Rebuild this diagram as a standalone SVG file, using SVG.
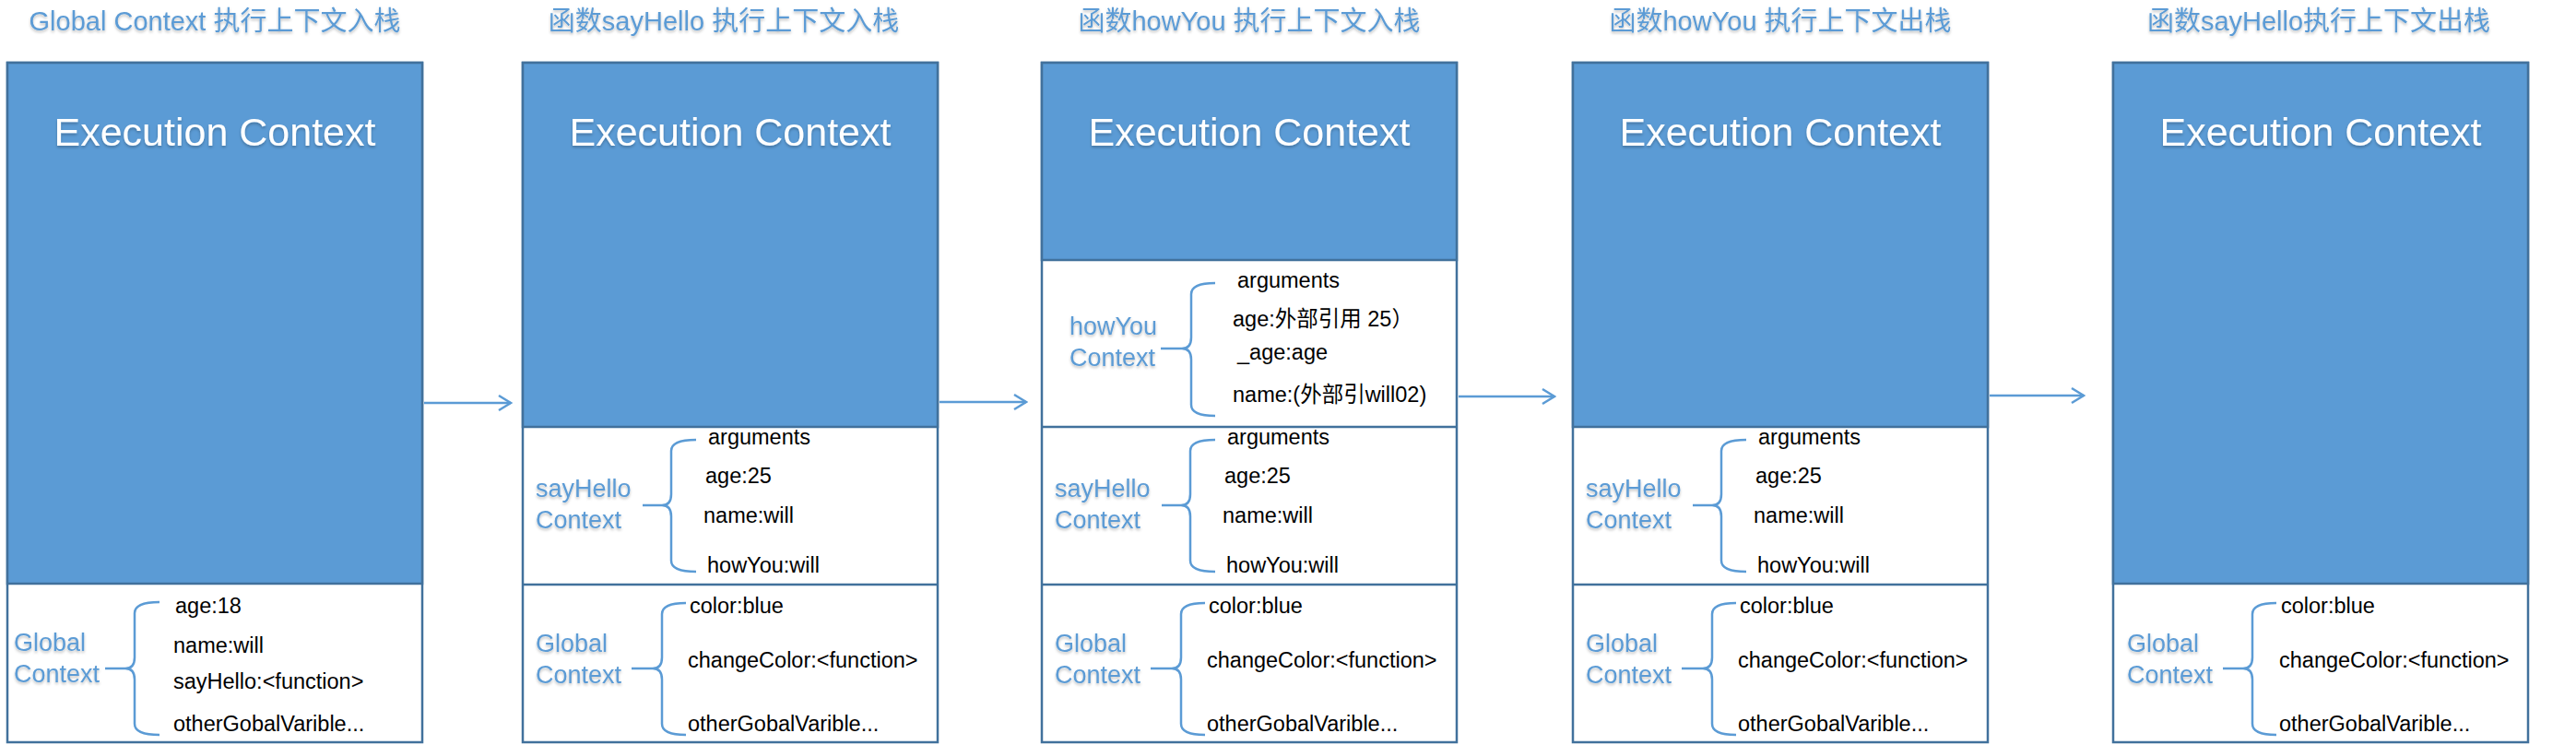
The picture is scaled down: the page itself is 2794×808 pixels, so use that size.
<svg xmlns="http://www.w3.org/2000/svg" width="2794" height="808" viewBox="0 0 2794 808">
<style>
.bg{fill:#ffffff}
.box{fill:#ffffff;stroke:#41719C;stroke-width:2.5}
.blue{fill:#5B9BD5;stroke:#41719C;stroke-width:2.5}
.div{stroke:#41719C;stroke-width:2.5;fill:none}
.title{font-family:"Liberation Sans","Noto Sans CJK SC",sans-serif;font-size:29px;fill:#5B9BD5;text-anchor:middle}
.ec{font-family:"Liberation Sans",sans-serif;font-size:43px;fill:#ffffff;text-anchor:middle}
.lbl{font-family:"Liberation Sans",sans-serif;font-size:27px;fill:#5B9BD5}
.item{font-family:"Liberation Sans","Noto Sans CJK SC",sans-serif;font-size:23.5px;fill:#000000}
.brace{fill:none;stroke:#5B9BD5;stroke-width:2.5}
.conn{fill:none;stroke:#5B9BD5;stroke-width:2.5}
</style>
<defs>
<filter id="sh" x="-10%" y="-30%" width="120%" height="160%">
<feDropShadow dx="0" dy="2" stdDeviation="1.5" flood-color="#000000" flood-opacity="0.25"/>
</filter>
<marker id="arr" markerWidth="16" markerHeight="20" refX="14" refY="10" orient="auto" markerUnits="userSpaceOnUse">
<path d="M1,2 L14,10 L1,18" fill="none" stroke="#5B9BD5" stroke-width="2.5"/>
</marker>
</defs>
<rect class="bg" x="0" y="0" width="2794" height="808"/>

<!-- Box 1 -->
<g id="stage1">
<text class="title" x="233" y="33" filter="url(#sh)">Global Context 执行上下文入栈</text>
<rect class="box" x="8" y="68" width="450" height="737"/>
<rect class="blue" x="8" y="68" width="450" height="565"/>
<text class="ec" x="233" y="158" filter="url(#sh)">Execution Context</text>
<g id="s1-global">
<text class="lbl" x="15" y="706" filter="url(#sh)">Global</text>
<text class="lbl" x="15" y="740" filter="url(#sh)">Context</text>
<path class="brace" d="M114,725 L136,725 M173,653 Q146,653 146,665 L146,713 Q146,725 136,725 Q146,725 146,737 L146,785 Q146,797 173,797"/>
<text class="item" x="190" y="665">age:18</text>
<text class="item" x="188" y="708">name:will</text>
<text class="item" x="188" y="747">sayHello:&lt;function&gt;</text>
<text class="item" x="188" y="793">otherGobalVarible...</text>
</g>
</g>

<!-- Box 2 -->
<g id="stage2">
<text class="title" x="785" y="33" filter="url(#sh)">函数sayHello 执行上下文入栈</text>
<rect class="box" x="567" y="68" width="450" height="737"/>
<rect class="blue" x="567" y="68" width="450" height="395"/>
<line class="div" x1="567" y1="634" x2="1017" y2="634"/>
<text class="ec" x="792" y="158" filter="url(#sh)">Execution Context</text>
<g id="s2-sayhello">
<text class="lbl" x="581" y="539" filter="url(#sh)">sayHello</text>
<text class="lbl" x="581" y="573" filter="url(#sh)">Context</text>
<path class="brace" d="M697,548 L718,548 M755,477 Q728,477 728,489 L728,536 Q728,548 718,548 Q728,548 728,560 L728,608 Q728,620 755,620"/>
<text class="item" x="768" y="482">arguments</text>
<text class="item" x="765" y="524">age:25</text>
<text class="item" x="763" y="567">name:will</text>
<text class="item" x="767" y="621">howYou:will</text>
</g>
<g id="s2-global">
<text class="lbl" x="581" y="707" filter="url(#sh)">Global</text>
<text class="lbl" x="581" y="741" filter="url(#sh)">Context</text>
<path class="brace" d="M685,725 L708,725 M744,654 Q718,654 718,666 L718,713 Q718,725 708,725 Q718,725 718,737 L718,785 Q718,797 744,797"/>
<text class="item" x="748" y="665">color:blue</text>
<text class="item" x="746" y="724">changeColor:&lt;function&gt;</text>
<text class="item" x="746" y="793">otherGobalVarible...</text>
</g>
</g>

<!-- Box 3 -->
<g id="stage3">
<text class="title" x="1355" y="33" filter="url(#sh)">函数howYou 执行上下文入栈</text>
<rect class="box" x="1130" y="68" width="450" height="737"/>
<rect class="blue" x="1130" y="68" width="450" height="214"/>
<line class="div" x1="1130" y1="463" x2="1580" y2="463"/>
<line class="div" x1="1130" y1="634" x2="1580" y2="634"/>
<text class="ec" x="1355" y="158" filter="url(#sh)">Execution Context</text>
<g id="s3-howyou">
<text class="lbl" x="1160" y="363" filter="url(#sh)">howYou</text>
<text class="lbl" x="1160" y="397" filter="url(#sh)">Context</text>
<path class="brace" d="M1259,378 L1282,378 M1318,307 Q1292,307 1292,319 L1292,366 Q1292,378 1282,378 Q1292,378 1292,390 L1292,439 Q1292,451 1318,451"/>
<text class="item" x="1342" y="312">arguments</text>
<text class="item" x="1337" y="354">age:外部引用 25）</text>
<text class="item" x="1342" y="390">_age:age</text>
<text class="item" x="1337" y="436">name:(外部引will02)</text>
</g>
<g id="s3-sayhello">
<text class="lbl" x="1144" y="539" filter="url(#sh)">sayHello</text>
<text class="lbl" x="1144" y="573" filter="url(#sh)">Context</text>
<path class="brace" d="M1260,548 L1281,548 M1318,477 Q1291,477 1291,489 L1291,536 Q1291,548 1281,548 Q1291,548 1291,560 L1291,608 Q1291,620 1318,620"/>
<text class="item" x="1331" y="482">arguments</text>
<text class="item" x="1328" y="524">age:25</text>
<text class="item" x="1326" y="567">name:will</text>
<text class="item" x="1330" y="621">howYou:will</text>
</g>
<g id="s3-global">
<text class="lbl" x="1144" y="707" filter="url(#sh)">Global</text>
<text class="lbl" x="1144" y="741" filter="url(#sh)">Context</text>
<path class="brace" d="M1248,725 L1271,725 M1307,654 Q1281,654 1281,666 L1281,713 Q1281,725 1271,725 Q1281,725 1281,737 L1281,785 Q1281,797 1307,797"/>
<text class="item" x="1311" y="665">color:blue</text>
<text class="item" x="1309" y="724">changeColor:&lt;function&gt;</text>
<text class="item" x="1309" y="793">otherGobalVarible...</text>
</g>
</g>

<!-- Box 4 -->
<g id="stage4">
<text class="title" x="1931" y="33" filter="url(#sh)">函数howYou 执行上下文出栈</text>
<rect class="box" x="1706" y="68" width="450" height="737"/>
<rect class="blue" x="1706" y="68" width="450" height="395"/>
<line class="div" x1="1706" y1="634" x2="2156" y2="634"/>
<text class="ec" x="1931" y="158" filter="url(#sh)">Execution Context</text>
<g id="s4-sayhello">
<text class="lbl" x="1720" y="539" filter="url(#sh)">sayHello</text>
<text class="lbl" x="1720" y="573" filter="url(#sh)">Context</text>
<path class="brace" d="M1836,548 L1857,548 M1894,477 Q1867,477 1867,489 L1867,536 Q1867,548 1857,548 Q1867,548 1867,560 L1867,608 Q1867,620 1894,620"/>
<text class="item" x="1907" y="482">arguments</text>
<text class="item" x="1904" y="524">age:25</text>
<text class="item" x="1902" y="567">name:will</text>
<text class="item" x="1906" y="621">howYou:will</text>
</g>
<g id="s4-global">
<text class="lbl" x="1720" y="707" filter="url(#sh)">Global</text>
<text class="lbl" x="1720" y="741" filter="url(#sh)">Context</text>
<path class="brace" d="M1824,725 L1847,725 M1883,654 Q1857,654 1857,666 L1857,713 Q1857,725 1847,725 Q1857,725 1857,737 L1857,785 Q1857,797 1883,797"/>
<text class="item" x="1887" y="665">color:blue</text>
<text class="item" x="1885" y="724">changeColor:&lt;function&gt;</text>
<text class="item" x="1885" y="793">otherGobalVarible...</text>
</g>
</g>

<!-- Box 5 -->
<g id="stage5">
<text class="title" x="2515" y="33" filter="url(#sh)">函数sayHello执行上下文出栈</text>
<rect class="box" x="2292" y="68" width="450" height="737"/>
<rect class="blue" x="2292" y="68" width="450" height="565"/>
<text class="ec" x="2517" y="158" filter="url(#sh)">Execution Context</text>
<g id="s5-global">
<text class="lbl" x="2307" y="707" filter="url(#sh)">Global</text>
<text class="lbl" x="2307" y="741" filter="url(#sh)">Context</text>
<path class="brace" d="M2411,725 L2433,725 M2469,654 Q2443,654 2443,666 L2443,713 Q2443,725 2433,725 Q2443,725 2443,737 L2443,785 Q2443,797 2469,797"/>
<text class="item" x="2474" y="665">color:blue</text>
<text class="item" x="2472" y="724">changeColor:&lt;function&gt;</text>
<text class="item" x="2472" y="793">otherGobalVarible...</text>
</g>
</g>

<!-- Connectors -->
<g id="connectors">
<line class="conn" x1="460" y1="437" x2="554" y2="437" marker-end="url(#arr)"/>
<line class="conn" x1="1019" y1="436" x2="1113" y2="436" marker-end="url(#arr)"/>
<line class="conn" x1="1582" y1="430" x2="1686" y2="430" marker-end="url(#arr)"/>
<line class="conn" x1="2158" y1="429" x2="2260" y2="429" marker-end="url(#arr)"/>
</g>
</svg>
